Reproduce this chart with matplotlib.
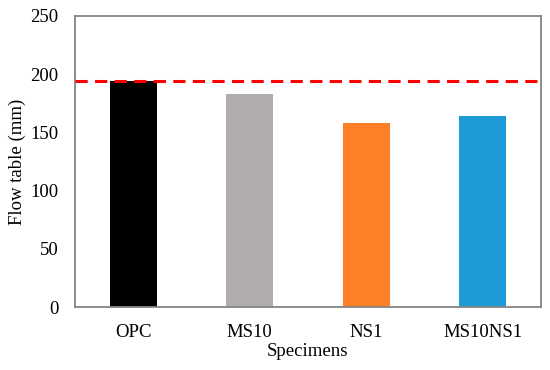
import matplotlib
matplotlib.use("Agg")
import matplotlib.pyplot as plt

categories = ["OPC", "MS10", "NS1", "MS10NS1"]
values = [194.3, 183.3, 158.3, 164.1]
reference_value = 194.3
colors = ["#000000", "#B0ADAC", "#FD7F27", "#1E9AD6"]
yticks = [0, 50, 100, 150, 200, 250]

plt.rcParams['font.family'] = ['Liberation Serif', 'DejaVu Serif']

fig = plt.figure(figsize=(5.5, 3.7), dpi=100)
ax = fig.add_axes([75/550, 1 - 307/370, 466/550, 291/370])

x = list(range(len(categories)))
ax.bar(x, values, width=0.4, color=colors, zorder=2)
ax.axhline(reference_value, color="#FF0000", lw=2.2, ls=(0, (4, 2.4)), zorder=3)

ax.set_xlim(-0.5, len(categories) - 0.5)
ax.set_ylim(0, 250)
ax.set_yticks(yticks)
ax.set_xticks(x)
ax.set_xticklabels(categories)
ax.tick_params(axis='both', length=0, labelsize=13.5, colors='black')
ax.tick_params(axis='x', pad=12)
ax.tick_params(axis='y', pad=12)
for s in ax.spines.values():
    s.set_color("#858585")
    s.set_linewidth(1.3)

ax.set_xlabel("Specimens", fontsize=13.5, labelpad=2)
ax.set_ylabel("Flow table (mm)", fontsize=13.5, labelpad=3)

fig.savefig("out.png", dpi=100)
